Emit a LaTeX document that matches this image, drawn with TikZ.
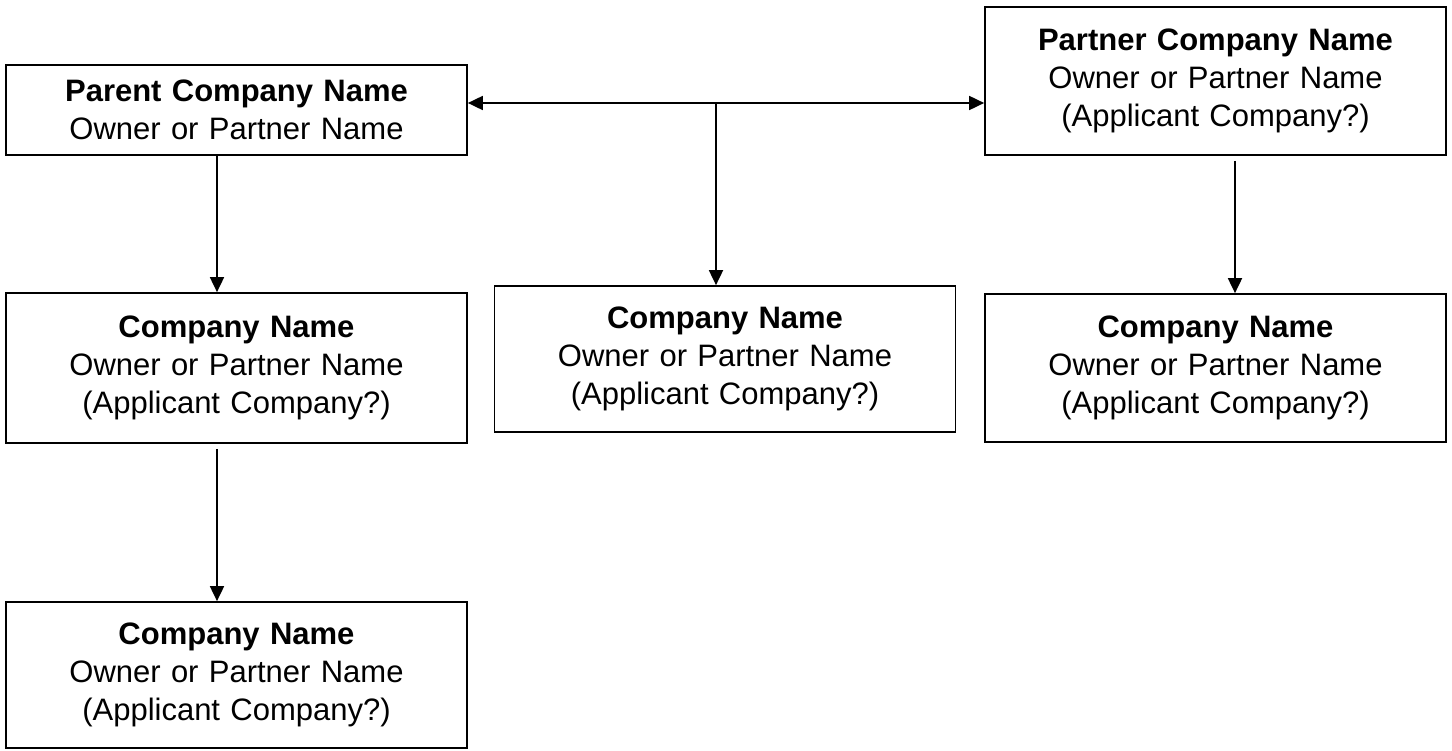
\documentclass[tikz,border=0pt]{standalone}
\usepackage{fontspec}
\setmainfont{Liberation Sans}
\usetikzlibrary{positioning,arrows.meta}

\tikzset{
  firm/.style={draw,line width=1.7pt,minimum width=461pt,text width=450pt,
    align=center,inner sep=0pt,font=\fontsize{31}{38}\selectfont},
  link/.style={line width=1.8pt,-{Triangle[length=15pt,width=14pt]}},
  twolink/.style={line width=1.8pt,{Triangle[length=15pt,width=14pt]}-{Triangle[length=15pt,width=14pt]}}
}

\begin{document}
\begin{tikzpicture}[x=1pt,y=-1pt,node distance=258pt,on grid]
	\useasboundingbox (0,0) rectangle (1452,751);

	\node[firm,minimum height=90pt]  (parent) at (236.5,110)         {\textbf{Parent Company Name}\\Owner or Partner Name};
	\node[firm,minimum height=150pt] (compl)  [below=of parent]      {\textbf{Company Name}\\Owner or Partner Name\\(Applicant Company?)};
	\node[firm,minimum height=146pt] (compb)  [below=307pt of compl] {\textbf{Company Name}\\Owner or Partner Name\\(Applicant Company?)};
	\node[firm,minimum height=148pt] (compr)  [right=979pt of compl] {\textbf{Company Name}\\Owner or Partner Name\\(Applicant Company?)};
	\node[firm,minimum height=148pt] (partner)[above=287pt of compr] {\textbf{Partner Company Name}\\Owner or Partner Name\\(Applicant Company?)};
	\node[firm,minimum height=146pt] (compc)  at (725,359)           {\textbf{Company Name}\\Owner or Partner Name\\(Applicant Company?)};

	\coordinate (hub) at (716,103);

	\draw[twolink] (parent.east |- hub) -- (partner.west |- hub);
	\draw[link] (hub) -- (hub |- compc.north);
	\draw[link] ([xshift=-19.5pt]parent.south) -- ([xshift=-19.5pt]compl.north);
	\draw[link] ([xshift=-19.5pt,yshift=-5pt]compl.south) -- ([xshift=-19.5pt]compb.north);
	\draw[link] ([xshift=19.5pt,yshift=-5pt]partner.south) -- ([xshift=19.5pt]compr.north);
\end{tikzpicture}
\end{document}
